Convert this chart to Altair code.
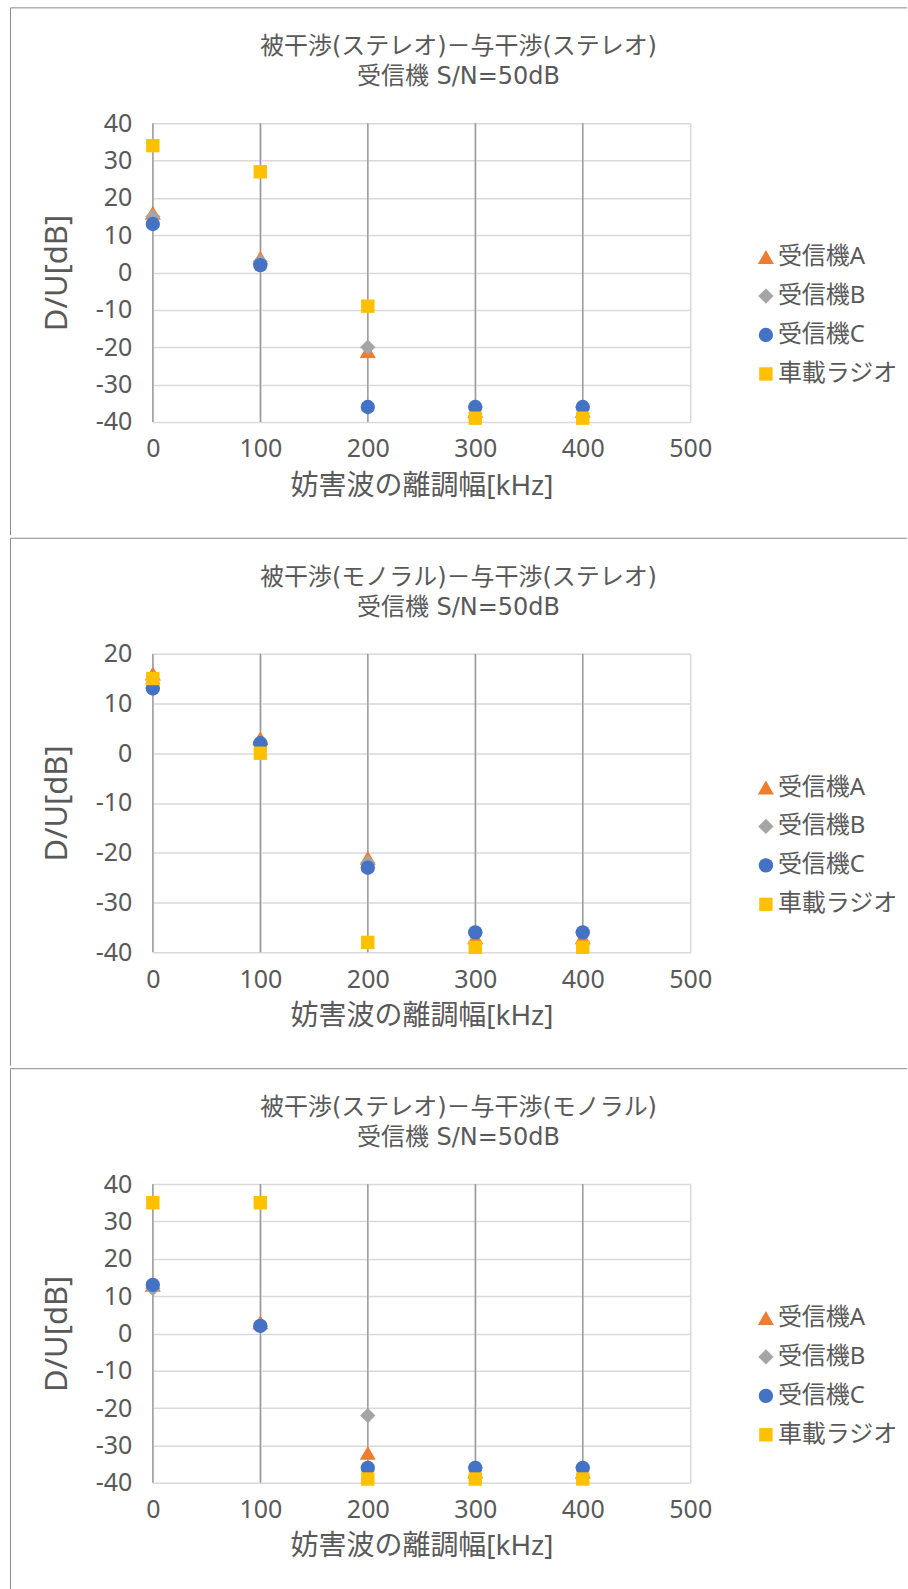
import altair as alt
import pandas as pd

# Offset of the interfering wave [kHz]
X_KHZ = [0, 100, 200, 300, 400]

SERIES = ["受信機A", "受信機B", "受信機C", "車載ラジオ"]
COLORS = ["#ED7D31", "#A5A5A5", "#4472C4", "#FFC000"]
SHAPES = ["triangle-up", "diamond", "circle", "square"]
SIZES = [260, 180, 225, 225]

SUBTITLE = "受信機 S/N=50dB"
X_TITLE = "妨害波の離調幅[kHz]"
Y_TITLE = "D/U[dB]"

# Panel 1: 被干渉(ステレオ)－与干渉(ステレオ)
P1_TITLE = "被干渉(ステレオ)－与干渉(ステレオ)"
P1_A = [16, 4, -21, -37, -37]
P1_B = [15, 3, -20, -36, -36]
P1_C = [13, 2, -36, -36, -36]
P1_CAR = [34, 27, -9, -39, -39]
P1_YDOMAIN = [-40, 40]

# Panel 2: 被干渉(モノラル)－与干渉(ステレオ)
P2_TITLE = "被干渉(モノラル)－与干渉(ステレオ)"
P2_A = [16, 3, -21, -37, -37]
P2_B = [14, 2, -22, -36, -36]
P2_C = [13, 2, -23, -36, -36]
P2_CAR = [15, 0, -38, -39, -39]
P2_YDOMAIN = [-40, 20]

# Panel 3: 被干渉(ステレオ)－与干渉(モノラル)
P3_TITLE = "被干渉(ステレオ)－与干渉(モノラル)"
P3_A = [13, 3, -32, -37, -37]
P3_B = [12, 2, -22, -36, -36]
P3_C = [13, 2, -36, -36, -36]
P3_CAR = [35, 35, -39, -39, -39]
P3_YDOMAIN = [-40, 40]

FONT = "Noto Sans, Noto Sans CJK JP"
TITLE_FONT = "DejaVu Sans, Noto Sans CJK JP"
TEXT = "#595959"
W, H = 538, 299


def panel(title, series_values, ydomain, frame_bottom):
    rows = []
    for name, ys in zip(SERIES, series_values):
        for x, y in zip(X_KHZ, ys):
            rows.append({"series": name, "x": x, "y": y})
    df = pd.DataFrame(rows)
    ymin, ymax = ydomain

    xscale = alt.Scale(domain=[0, 500], nice=False, zero=False)
    yscale = alt.Scale(domain=[ymin, ymax], nice=False, zero=False)

    xaxis = alt.Axis(
        values=[0, 100, 200, 300, 400, 500],
        grid=True, gridColor="#D9D9D9", gridWidth=1.5,
        domain=False, ticks=False, tickSize=0,
        labelPadding=27, labelBaseline="middle", labelFontSize=25,
        labelColor=TEXT, labelFlush=False, labelOverlap=False,
        title=X_TITLE, titleFontSize=28, titleColor=TEXT, titleFontWeight="normal",
        titleX=W / 2, titleY=64.3, titleAlign="center", titleBaseline="middle",
    )
    yaxis = alt.Axis(
        values=list(range(ymin, ymax + 1, 10)),
        grid=True, gridColor="#D9D9D9", gridWidth=1.5,
        domain=False, ticks=False, tickSize=0,
        labelPadding=21, labelFontSize=25, labelColor=TEXT,
        labelFlush=False, labelOverlap=False,
        labelExpr="datum.value + ''",
        title=Y_TITLE, titleFontSize=31, titleColor=TEXT, titleFontWeight="normal",
        titleAngle=270, titleX=-95, titleY=H / 2,
        titleAlign="center", titleBaseline="middle",
    )

    legend = alt.Legend(
        title=None, orient="none", legendX=601.75, legendY=122,
        labelFontSize=24, labelColor=TEXT, labelFont=FONT,
        symbolSize=210, symbolStrokeWidth=0, symbolOpacity=1,
        rowPadding=15, labelOffset=0, padding=0,
    )

    # vertical lines at each measured offset, spanning the whole value range
    drop_df = pd.DataFrame({"x": X_KHZ, "top": ymax, "bottom": ymin})
    drops = alt.Chart(drop_df).mark_rule(color="#959595", strokeWidth=1.3).encode(
        x=alt.X("x:Q", scale=xscale, axis=xaxis),
        y=alt.Y("top:Q", scale=yscale, axis=yaxis),
        y2="bottom:Q",
    )

    points = alt.Chart(df).mark_point(filled=True, opacity=1, strokeWidth=0).encode(
        x=alt.X("x:Q", scale=xscale, axis=xaxis),
        y=alt.Y("y:Q", scale=yscale, axis=yaxis),
        color=alt.Color("series:N", scale=alt.Scale(domain=SERIES, range=COLORS), legend=legend),
        shape=alt.Shape("series:N", scale=alt.Scale(domain=SERIES, range=SHAPES), legend=legend),
        size=alt.Size("series:N", scale=alt.Scale(domain=SERIES, range=SIZES), legend=None),
    )

    one = alt.Data(values=[{}])
    title1 = alt.Chart(one).mark_text(
        text=title, fontSize=24, color=TEXT, font=TITLE_FONT, align="center", baseline="middle"
    ).encode(x=alt.value(306), y=alt.value(-76))
    title2 = alt.Chart(one).mark_text(
        text=SUBTITLE, fontSize=24, color=TEXT, font=TITLE_FONT, align="center", baseline="middle"
    ).encode(x=alt.value(306), y=alt.value(-46))

    # chart-area frame: top and left edges
    frame_top = alt.Chart(one).mark_rule(color="#8A8A8A", strokeWidth=1).encode(
        x=alt.value(-142.5), x2=alt.value(755), y=alt.value(-115.5)
    )
    frame_left = alt.Chart(one).mark_rule(color="#8A8A8A", strokeWidth=1).encode(
        x=alt.value(-142.5), y=alt.value(-115.5), y2=alt.value(frame_bottom)
    )

    return alt.layer(drops, points, title1, title2, frame_top, frame_left).properties(
        width=W, height=H
    )


p1 = panel(P1_TITLE, [P1_A, P1_B, P1_C, P1_CAR], P1_YDOMAIN, 412.5)
p2 = panel(P2_TITLE, [P2_A, P2_B, P2_C, P2_CAR], P2_YDOMAIN, 412.5)
p3 = panel(P3_TITLE, [P3_A, P3_B, P3_C, P3_CAR], P3_YDOMAIN, 406.5)

chart = (
    alt.vconcat(p1, p2, p3, spacing=0)
    .resolve_scale(x="independent", y="independent")
    .resolve_legend(color="independent", shape="independent", size="independent")
    .properties(padding={"left": 9, "top": 5.5, "right": 0, "bottom": 0}, background="white")
    .configure(font=FONT)
    .configure_view(stroke="transparent")
    .configure_axis(labelFont=FONT, titleFont=FONT)
    .configure_legend(labelFont=FONT)
)

chart.save("out.html", embed_options={"renderer": "svg", "actions": False})
